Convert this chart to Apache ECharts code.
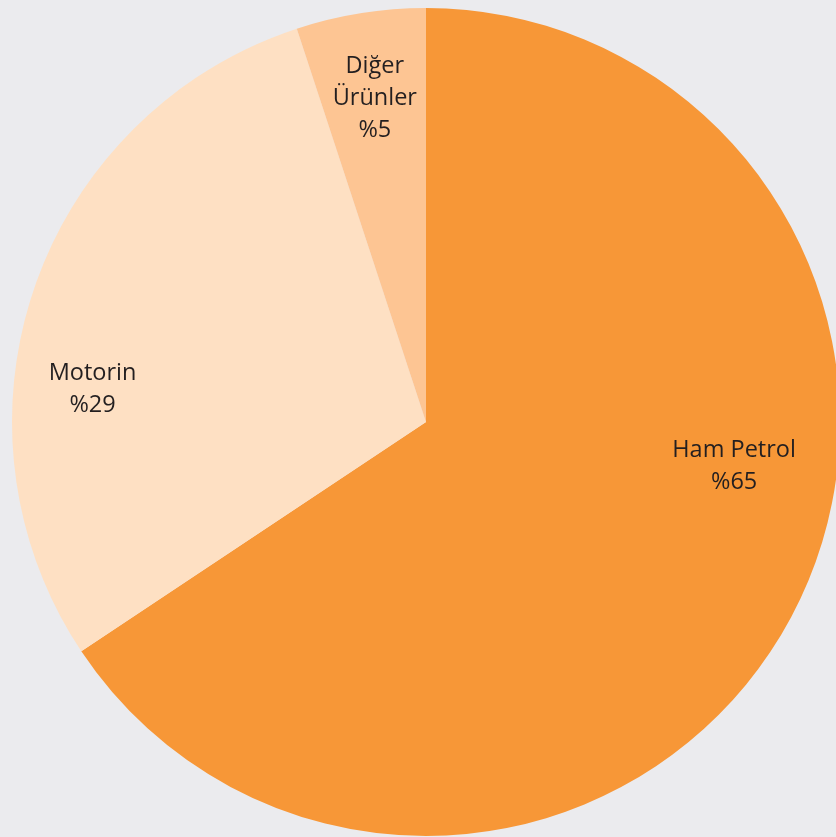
<!DOCTYPE html>
<html>
<head>
<meta charset="utf-8">
<script src="https://cdn.jsdelivr.net/npm/echarts@6/dist/echarts.min.js"></script>
<style>
html,body{margin:0;padding:0;background:#EBEBEE;}
#c{width:836px;height:837px;}
</style>
</head>
<body>
<div id="c"></div>
<script>
const categories = ['Ham Petrol', 'Motorin', 'Diğer\nÜrünler'];
const values = [65, 29, 5];
const valueLabels = ['%65', '%29', '%5'];
const colors = ['#F79737', '#FEE0C3', '#FDC593'];
const labelOffsets = [[123, -55], [-135, 36], [-18, -116]];

const chart = echarts.init(document.getElementById('c'), null, {renderer: 'canvas'});
chart.setOption({
  backgroundColor: '#EBEBEE',
  animation: false,
  series: [{
    type: 'pie',
    center: [426, 422],
    radius: [0, 414],
    startAngle: 90,
    clockwise: true,
    silent: true,
    label: {
      show: true,
      position: 'inside',
      color: '#231F20',
      fontFamily: 'Open Sans, Noto Sans, sans-serif',
      fontSize: 23.5,
      lineHeight: 32,
      align: 'center'
    },
    labelLine: {show: false},
    itemStyle: {borderWidth: 0},
    data: categories.map((name, i) => ({
      name: name,
      value: values[i],
      itemStyle: {color: colors[i]},
      label: {
        formatter: name + '\n' + valueLabels[i],
        offset: labelOffsets[i]
      }
    }))
  }]
});
</script>
</body>
</html>
